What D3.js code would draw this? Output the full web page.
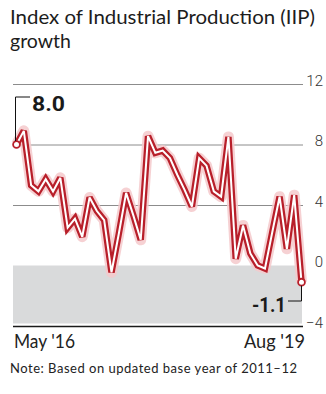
<!DOCTYPE html>
<html><head><meta charset="utf-8">
<script src="https://cdn.jsdelivr.net/npm/d3@7"></script>
<style>body{margin:0;background:#fff}svg{display:block}</style>
</head><body><svg id="c" width="326" height="394"></svg>
<script>
const months = ["May 2016","Jun 2016","Jul 2016","Aug 2016","Sep 2016","Oct 2016","Nov 2016","Dec 2016",
  "Jan 2017","Feb 2017","Mar 2017","Apr 2017","May 2017","Jun 2017","Jul 2017","Aug 2017","Sep 2017","Oct 2017","Nov 2017","Dec 2017",
  "Jan 2018","Feb 2018","Mar 2018","Apr 2018","May 2018","Jun 2018","Jul 2018","Aug 2018","Sep 2018","Oct 2018","Nov 2018","Dec 2018",
  "Jan 2019","Feb 2019","Mar 2019","Apr 2019","May 2019","Jun 2019","Jul 2019","Aug 2019"];
const growth = [8.0, 8.9, 5.3, 4.9, 5.7, 4.9, 5.8, 2.5,
  3.1, 1.9, 4.5, 3.6, 3.0, -0.45, 2.1, 4.8, 3.3, 1.7, 8.55, 7.45,
  7.6, 7.1, 6.0, 5.0, 3.9, 7.1, 6.6, 4.9, 4.55, 8.5, 0.45, 2.65,
  0.8, 0.0, -0.2, 2.2, 4.55, 1.1, 4.65, -1.1];
const yTicks = [12, 8, 4, 0, -4];
const yTickLabels = ["12", "8", "4", "0", "\u22124"];
const xTickLabels = ["May '16", "Aug '19"];
const titleLines = ["Index of Industrial Production (IIP)", "growth"];
const noteText = "Note: Based on updated base year of 2011\u201312";
const firstLabel = "8.0";
const lastLabel = "-1.1";

const svg = d3.select("#c");
const left = 13, right = 303;
const x = d3.scalePoint().domain(months).range([16.5, 301.5]);
const y = d3.scaleLinear().domain([-4, 12]).range([326, 84]);

// title
svg.append("g").selectAll("text").data(titleLines).join("text")
  .attr("x", 10).attr("y", (d, i) => 23.5 + i * 24.5)
  .attr("font-family", "Lato, 'Open Sans', sans-serif").attr("font-size", 19.5)
  .attr("fill", "#1c1c1c")
  .attr("textLength", (d, i) => i === 0 ? 305 : null)
  .attr("lengthAdjust", "spacingAndGlyphs")
  .text(d => d);

// negative zone
svg.append("rect").attr("x", left).attr("width", right - 1 - left)
  .attr("y", y(0)).attr("height", y(-4) - y(0) - 2.5).attr("fill", "#d9dadb");

// y axis / gridlines
const yAxis = svg.append("g").attr("transform", `translate(${right},0)`)
  .call(d3.axisRight(y).tickValues(yTicks).tickSize(-(right - left)).tickPadding(20)
    .tickFormat((d, i) => yTickLabels[i]));
yAxis.select(".domain").remove();
yAxis.selectAll(".tick line")
  .attr("stroke", d => d === -4 ? "#1a1a1a" : (d === 0 ? "none" : "#8c8c8c"))
  .attr("stroke-width", d => d === -4 ? 1.6 : 1);
yAxis.selectAll(".tick text")
  .attr("text-anchor", "end").attr("dy", "0.08em")
  .attr("font-family", "Roboto, sans-serif").attr("font-weight", 300).attr("font-size", 15)
  .attr("fill", "#333");

// x labels
svg.append("g").selectAll("text").data(xTickLabels).join("text")
  .attr("x", (d, i) => i === 0 ? x(months[0]) - 2.5 : x(months[months.length - 1]) + 3.5)
  .attr("y", 348)
  .attr("text-anchor", (d, i) => i === 0 ? "start" : "end")
  .attr("font-family", "Lato, sans-serif").attr("font-size", 18.5).attr("fill", "#222")
  .attr("textLength", 61).attr("lengthAdjust", "spacingAndGlyphs")
  .text(d => d);

// note
svg.append("text").attr("x", 10).attr("y", 373)
  .attr("font-family", "Lato, sans-serif").attr("font-size", 13).attr("fill", "#222")
  .attr("textLength", 287).attr("lengthAdjust", "spacing")
  .text(noteText);

// line
const line = d3.line().x((d, i) => x(months[i])).y(d => y(d));
const pts = growth;
svg.append("path").datum(pts).attr("d", line).attr("fill", "none")
  .attr("stroke", "#f4c9cb").attr("stroke-width", 11).attr("stroke-linejoin", "round").attr("opacity", 0.85);
svg.append("path").datum(pts).attr("d", line).attr("fill", "none")
  .attr("stroke", "#b81f2a").attr("stroke-width", 6.5).attr("stroke-linejoin", "miter").attr("stroke-miterlimit", 3);
svg.append("path").datum(pts).attr("d", line).attr("fill", "none")
  .attr("stroke", "#fff").attr("stroke-width", 2).attr("stroke-linejoin", "miter").attr("stroke-miterlimit", 3);

// end markers
const ends = [0, months.length - 1];
svg.append("g").selectAll("circle").data(ends).join("circle")
  .attr("cx", i => x(months[i])).attr("cy", i => y(growth[i])).attr("r", 3.4)
  .attr("fill", "#fff").attr("stroke", "#b81f2a").attr("stroke-width", 1.8);

// annotations
const x0 = x(months[0]), y0 = y(growth[0]);
svg.append("path").attr("d", `M${x0 - 1},${y0 - 3.5}V97H30`).attr("fill", "none")
  .attr("stroke", "#111").attr("stroke-width", 1);
svg.append("text").attr("x", 32).attr("y", 110.5)
  .attr("font-family", "Roboto, sans-serif").attr("font-weight", 700).attr("font-size", 20.5)
  .attr("fill", "#1a1a1a").attr("textLength", 33).attr("lengthAdjust", "spacingAndGlyphs")
  .text(firstLabel);
const xn = x(months[months.length - 1]), yn = y(growth[growth.length - 1]);
svg.append("path").attr("d", `M${xn},${yn + 3.5}V301H288`).attr("fill", "none")
  .attr("stroke", "#111").attr("stroke-width", 1);
svg.append("text").attr("x", 286).attr("y", 311.5).attr("text-anchor", "end")
  .attr("font-family", "Roboto, sans-serif").attr("font-weight", 700).attr("font-size", 20.5)
  .attr("fill", "#1a1a1a").attr("textLength", 34).attr("lengthAdjust", "spacingAndGlyphs")
  .text(lastLabel);
</script></body></html>
